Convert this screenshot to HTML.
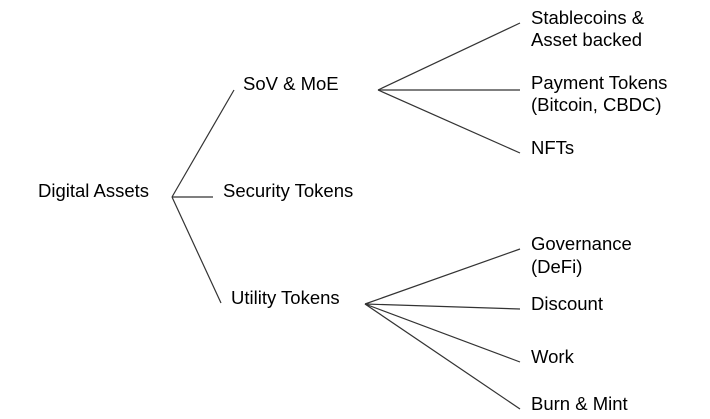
<!DOCTYPE html>
<html><head><style>body{margin:0;background:#fff}svg{display:block}text{font-family:"Liberation Sans",Arial,sans-serif;font-size:18.5px;fill:#000}</style></head>
<body>
<svg width="710" height="419" viewBox="0 0 710 419" xmlns="http://www.w3.org/2000/svg">
<g stroke="#333" stroke-width="1.2" fill="none">
<line x1="172" y1="197" x2="234" y2="90"/>
<line x1="172" y1="197" x2="213" y2="197"/>
<line x1="172" y1="197" x2="221" y2="303"/>
<line x1="378" y1="90" x2="520" y2="23"/>
<line x1="378" y1="90" x2="520" y2="90"/>
<line x1="378" y1="90" x2="520" y2="153"/>
<line x1="365" y1="304" x2="520" y2="249"/>
<line x1="365" y1="304" x2="520" y2="309"/>
<line x1="365" y1="304" x2="520" y2="362"/>
<line x1="365" y1="304" x2="520" y2="409"/>
</g>
<text x="38" y="197">Digital Assets</text>
<text x="243" y="90">SoV &amp; MoE</text>
<text x="223" y="197">Security Tokens</text>
<text x="231" y="304">Utility Tokens</text>
<text x="531" y="24">Stablecoins &amp;</text>
<text x="531" y="46">Asset backed</text>
<text x="531" y="89">Payment Tokens</text>
<text x="531" y="111">(Bitcoin, CBDC)</text>
<text x="531" y="154">NFTs</text>
<text x="531" y="250">Governance</text>
<text x="531" y="273">(DeFi)</text>
<text x="531" y="310">Discount</text>
<text x="531" y="363">Work</text>
<text x="531" y="410">Burn &amp; Mint</text>
</svg>
</body></html>
